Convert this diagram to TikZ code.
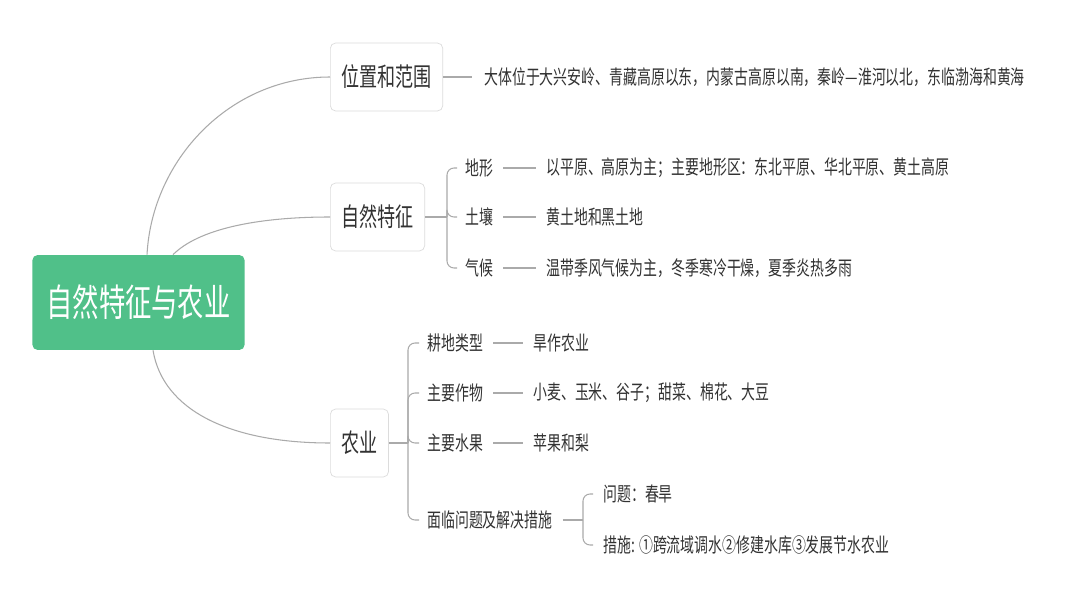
\documentclass[tikz,border=0pt]{standalone}
\usepackage{fontspec}
\setmainfont{Noto Sans CJK SC}[FakeStretch=0.7]
\usepackage{tikz}
\definecolor{mindgreen}{RGB}{80,192,137}
\definecolor{linegray}{RGB}{170,170,170}
\definecolor{boxgray}{RGB}{220,220,220}
\definecolor{textgray}{RGB}{50,50,50}

\begin{document}
\begin{tikzpicture}[x=0.02cm,y=-0.02cm,
    root/.style={fill=mindgreen,rounded corners=3pt,text=white,inner xsep=0.28cm,
        minimum height=1.9cm,font=\fontsize{21.4}{25}\selectfont},
    topic/.style={draw=boxgray,fill=white,rounded corners=3pt,text=textgray,anchor=west,
        inner xsep=0.22cm,minimum height=1.36cm,font=\fontsize{14.7}{17}\selectfont},
    label/.style={inner sep=0pt,anchor=west,text=textgray,font=\fontsize{11.3}{13}\selectfont},
    link/.style={draw=linegray,line width=0.6pt},
    fork/.style={link,rounded corners=4pt,shorten >=0.16cm}]
    \useasboundingbox[fill=white] (0,0) rectangle (1080,608);

    \node[root] (root) at (138.5,302.5) {自然特征与农业};
    \node[topic] (pos) at (330,77) {位置和范围};
    \node[topic] (nat) at (330,217) {自然特征};
    \node[topic] (agr) at (330,443) {农业};

    % root to topics
    \draw[link] ([xshift=2.3cm]root.north west) .. controls +(5,-95) and +(-100,0) .. (pos.west);
    \draw[link] ([xshift=2.82cm]root.north west) .. controls +(25,-25) and +(-75,0) .. (nat.west);
    \draw[link] ([xshift=2.42cm]root.south west) .. controls +(10,60) and +(-100,0) .. (agr.west);

    % position and extent
    \node[label] (posv) at (484,77) {大体位于大兴安岭、青藏高原以东，内蒙古高原以南，秦岭—淮河以北，东临渤海和黄海};
    \draw[link,shorten >=0.24cm] (pos.east) -- (posv.west);

    % natural features
    \coordinate (j2) at (447,217);
    \draw[link] (nat.east) -- (j2);
    \foreach \n/\y/\a/\b in {terrain/168/地形/{以平原、高原为主；主要地形区：东北平原、华北平原、黄土高原},
                             soil/217/土壤/{黄土地和黑土地},
                             climate/268/气候/{温带季风气候为主，冬季寒冷干燥，夏季炎热多雨}} {
        \node[label] (\n) at (465,\y) {\a};
        \node[label] (\n v) at (546,\y) {\b};
        \draw[fork] (j2) |- (\n.west);
        \draw[link,shorten <=0.2cm,shorten >=0.2cm] (\n.east) -- (\n v.west);
    }

    % agriculture
    \coordinate (j3) at (408,443);
    \draw[link] (agr.east) -- (j3);
    \foreach \n/\y/\a/\b in {land/343/耕地类型/{旱作农业},
                             crop/393/主要作物/{小麦、玉米、谷子；甜菜、棉花、大豆},
                             fruit/443/主要水果/{苹果和梨}} {
        \node[label] (\n) at (427,\y) {\a};
        \node[label] (\n v) at (533,\y) {\b};
        \draw[fork] (j3) |- (\n.west);
        \draw[link,shorten <=0.2cm,shorten >=0.2cm] (\n.east) -- (\n v.west);
    }
    \node[label] (issue) at (427,520) {面临问题及解决措施};
    \draw[fork] (j3) |- (issue.west);

    % problems and measures
    \coordinate (j4) at (583,520);
    \draw[link,shorten <=0.2cm] (issue.east) -- (j4);
    \node[label] (prob) at (603,494) {问题：春旱};
    \node[label] (meas) at (603,545) {措施: ①跨流域调水②修建水库③发展节水农业};
    \draw[fork,shorten >=0.2cm] (j4) |- (prob.west);
    \draw[fork,shorten >=0.2cm] (j4) |- (meas.west);
\end{tikzpicture}
\end{document}
